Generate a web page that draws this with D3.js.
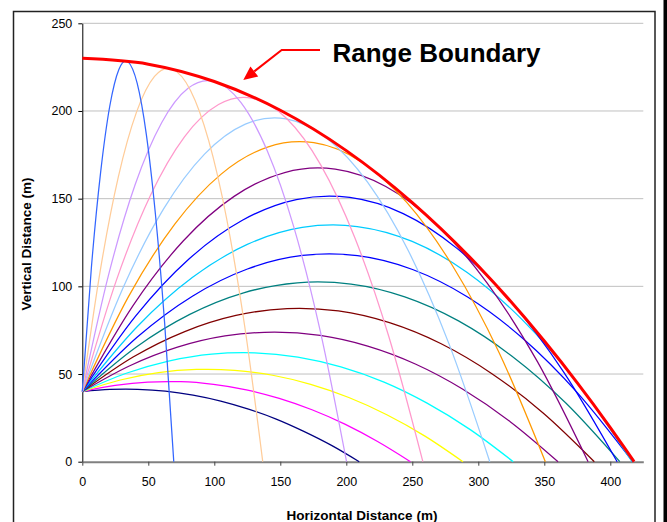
<!DOCTYPE html>
<html>
<head>
<meta charset="utf-8">
<script src="https://cdnjs.cloudflare.com/ajax/libs/d3/7.8.5/d3.min.js"></script>
<style>
  body { margin: 0; background: #fff; }
  svg { display: block; font-family: "Liberation Sans", Arial, sans-serif; }
</style>
</head>
<body>
<svg id="chart" width="667" height="522"></svg>
<script>
// trajectory points [horizontal m, vertical m], one per launch angle
const angles = [5, 10, 15, 20, 25, 30, 35, 40, 45, 50, 55, 60, 65, 70, 75, 80, 85];

const traj05 = [[0,40],[21.0,41.3],[33.0,41.4],[42.0,41.3],[62.9,40.3],[83.9,38.0],[104.9,34.6],[125.9,30.0],[146.9,24.3],[167.8,17.3],[188.8,9.3],[209.8,0]];
const traj10 = [[0,40],[24.9,43.5],[49.7,45.4],[65.0,45.7],[74.6,45.6],[99.4,44.1],[124.3,41.0],[149.2,36.1],[174.0,29.6],[198.9,21.4],[223.7,11.5],[248.6,0]];
const traj15 = [[0,40],[28.8,46.6],[57.7,50.8],[86.5,52.6],[95.0,52.7],[115.4,52.1],[144.2,49.3],[173.0,44.1],[201.9,36.6],[230.7,26.8],[259.6,14.6],[288.4,0]];
const traj20 = [[0,40],[32.7,50.3],[65.3,57.4],[98.0,61.4],[122.1,62.2],[130.6,62.1],[163.3,59.7],[195.9,54.1],[228.6,45.4],[261.2,33.4],[293.9,18.3],[326.5,0]];
const traj25 = [[0,40],[36.0,54.7],[72.1,65.3],[108.1,71.7],[145.6,73.9],[180.2,72.0],[216.2,65.9],[252.3,55.7],[288.3,41.3],[324.4,22.7],[360.4,0]];
const traj30 = [[0,40],[38.8,59.8],[77.6,74.2],[116.4,83.4],[155.2,87.3],[164.6,87.5],[194.0,86.0],[232.7,79.3],[271.5,67.4],[310.3,50.2],[349.1,27.8],[387.9,0]];
const traj35 = [[0,40],[40.7,65.3],[81.4,84.0],[122.2,96.3],[162.9,102.0],[178.5,102.5],[203.6,101.3],[244.3,94.0],[285.0,80.3],[325.8,60.0],[366.5,33.3],[407.2,0]];
const traj40 = [[0,40],[41.7,71.1],[83.4,94.4],[125.1,109.9],[166.8,117.6],[187.1,118.5],[208.5,117.5],[250.2,109.6],[291.9,93.9],[333.6,70.4],[375.3,39.1],[417.0,0]];
const traj45 = [[0,40],[41.7,77.1],[83.3,105.0],[125.0,123.9],[166.6,133.6],[190.0,135.0],[208.3,134.1],[249.9,125.6],[291.6,107.9],[333.2,81.0],[374.9,45.1],[416.5,0]];
const traj50 = [[0,40],[40.5,83.1],[81.0,115.7],[121.6,137.8],[162.1,149.5],[187.1,151.5],[202.6,150.7],[243.1,141.5],[283.6,121.8],[324.2,91.7],[364.7,51.1],[405.2,0]];
const traj55 = [[0,40],[38.3,88.9],[76.6,126.0],[115.0,151.3],[153.3,164.9],[178.5,167.5],[191.6,166.8],[229.9,156.9],[268.2,135.3],[306.6,102.0],[344.9,56.9],[383.2,0]];
const traj60 = [[0,40],[35.1,94.3],[70.2,135.6],[105.2,164.0],[140.3,179.4],[164.6,182.5],[175.4,181.9],[210.5,171.4],[245.6,148.0],[280.6,111.6],[315.7,62.3],[350.8,0]];
const traj65 = [[0,40],[30.9,99.2],[61.7,144.3],[92.6,175.4],[123.5,192.5],[145.6,196.1],[154.4,195.5],[185.2,184.5],[216.1,159.4],[247.0,120.3],[277.8,67.2],[308.7,0]];
const traj70 = [[0,40],[25.8,103.4],[51.6,151.8],[77.4,185.3],[103.2,203.7],[122.1,207.8],[129.0,207.2],[154.8,195.7],[180.6,169.3],[206.4,127.8],[232.2,71.4],[258.0,0]];
const traj75 = [[0,40],[20.0,106.8],[40.0,157.9],[60.1,193.3],[80.1,212.9],[95.0,217.3],[100.1,216.8],[120.1,204.9],[140.1,177.3],[160.2,133.9],[180.2,74.8],[200.2,0]];
const traj80 = [[0,40],[13.7,109.4],[27.3,162.4],[41.0,199.2],[54.7,219.7],[65.0,224.3],[68.4,223.8],[82.0,211.7],[95.7,183.2],[109.4,138.4],[123.0,77.4],[136.7,0]];
const traj85 = [[0,40],[6.9,110.9],[13.9,165.1],[20.8,202.7],[27.7,223.7],[33.0,228.6],[34.7,228.0],[41.6,215.7],[48.5,186.7],[55.4,141.1],[62.4,78.9],[69.3,0]];

// envelope of all trajectories
const boundaryX = [0, 50, 100, 150, 200, 250, 300, 350, 375, 400, 410, 418];
const boundaryY = [230, 226.7, 216.8, 200.4, 177.4, 147.8, 111.6, 68.8, 45.0, 19.5, 8.8, 0];

const xTicks = [0, 50, 100, 150, 200, 250, 300, 350, 400];
const yTicks = [0, 50, 100, 150, 200, 250];

const trajectories = [traj05, traj10, traj15, traj20, traj25, traj30, traj35, traj40, traj45,
                      traj50, traj55, traj60, traj65, traj70, traj75, traj80, traj85];
const lineColors = ["#000080", "#FF00FF", "#FFFF00", "#00FFFF", "#800080", "#800000", "#008080", "#0000FF", "#00CCFF",
                    "#0000FF", "#800080", "#FF9900", "#99CCFF", "#FF99CC", "#CC99FF", "#FFCC99", "#3366FF"];

const svg = d3.select("#chart");

const x = d3.scaleLinear().domain([0, 425]).range([82.3, 643.3]);
const y = d3.scaleLinear().domain([0, 250]).range([461.7, 23.3]);

// chart area border
svg.append("rect")
    .attr("x", 13.5).attr("y", 11.5)
    .attr("width", 641.5).attr("height", 540)
    .attr("fill", "none")
    .attr("stroke", "#222")
    .attr("stroke-width", 1.5);
svg.append("rect")
    .attr("x", 663.5).attr("y", 0)
    .attr("width", 4).attr("height", 522)
    .attr("fill", "#000");

// gridlines
svg.append("g").selectAll("line")
    .data(yTicks.filter(d => d > 0))
  .enter().append("line")
    .attr("x1", x(0)).attr("x2", x(425))
    .attr("y1", d => y(d)).attr("y2", d => y(d))
    .attr("stroke", "#c0c0c0")
    .attr("stroke-width", 1);

// axes
const yAxis = svg.append("g")
    .attr("transform", `translate(${x(0)},0)`)
    .call(d3.axisLeft(y).tickValues(yTicks).tickSize(4).tickSizeOuter(0).tickPadding(6));
yAxis.select(".domain").attr("stroke", "#000");
yAxis.selectAll(".tick line").attr("stroke", "#000");
yAxis.selectAll("text").attr("font-size", "12.5px").attr("fill", "#000")
    .style("font-family", "'Liberation Sans', Arial, sans-serif");

const xAxis = svg.append("g")
    .attr("transform", `translate(0,${y(0)})`)
    .call(d3.axisBottom(x).tickValues(xTicks).tickSize(4).tickSizeOuter(0).tickPadding(11));
xAxis.select(".domain").attr("stroke", "#808080").attr("stroke-width", 2);
xAxis.selectAll(".tick line").attr("stroke", "#444");
xAxis.selectAll("text").attr("font-size", "12.5px").attr("fill", "#000")
    .style("font-family", "'Liberation Sans', Arial, sans-serif");

// trajectories
const line = d3.line()
    .x(d => x(d[0]))
    .y(d => y(d[1]))
    .curve(d3.curveMonotoneX);

svg.append("g").selectAll("path")
    .data(trajectories)
  .enter().append("path")
    .attr("d", line)
    .attr("fill", "none")
    .attr("stroke", (d, i) => lineColors[i])
    .attr("stroke-width", 1.25);

// range boundary
svg.append("path")
    .datum(boundaryX.map((d, i) => [d, boundaryY[i]]))
    .attr("d", line)
    .attr("fill", "none")
    .attr("stroke", "#FF0000")
    .attr("stroke-width", 3);

// annotation
svg.append("text")
    .attr("x", 332.5).attr("y", 61.7)
    .attr("font-size", "26px")
    .attr("font-weight", "bold")
    .text("Range Boundary");

svg.append("path")
    .attr("d", "M320,50 L281.7,50 L254.3,71.4")
    .attr("fill", "none")
    .attr("stroke", "#FF0000")
    .attr("stroke-width", 2);
svg.append("path")
    .attr("d", "M243.3,80 L250.4,66.4 L258.2,76.4 Z")
    .attr("fill", "#FF0000");

// axis titles
svg.append("text")
    .attr("transform", "translate(31,244) rotate(-90)")
    .attr("text-anchor", "middle")
    .attr("font-size", "13.5px")
    .attr("font-weight", "bold")
    .text("Vertical Distance (m)");

svg.append("text")
    .attr("x", 362).attr("y", 520)
    .attr("text-anchor", "middle")
    .attr("font-size", "13.5px")
    .attr("font-weight", "bold")
    .text("Horizontal Distance (m)");
</script>
</body>
</html>
